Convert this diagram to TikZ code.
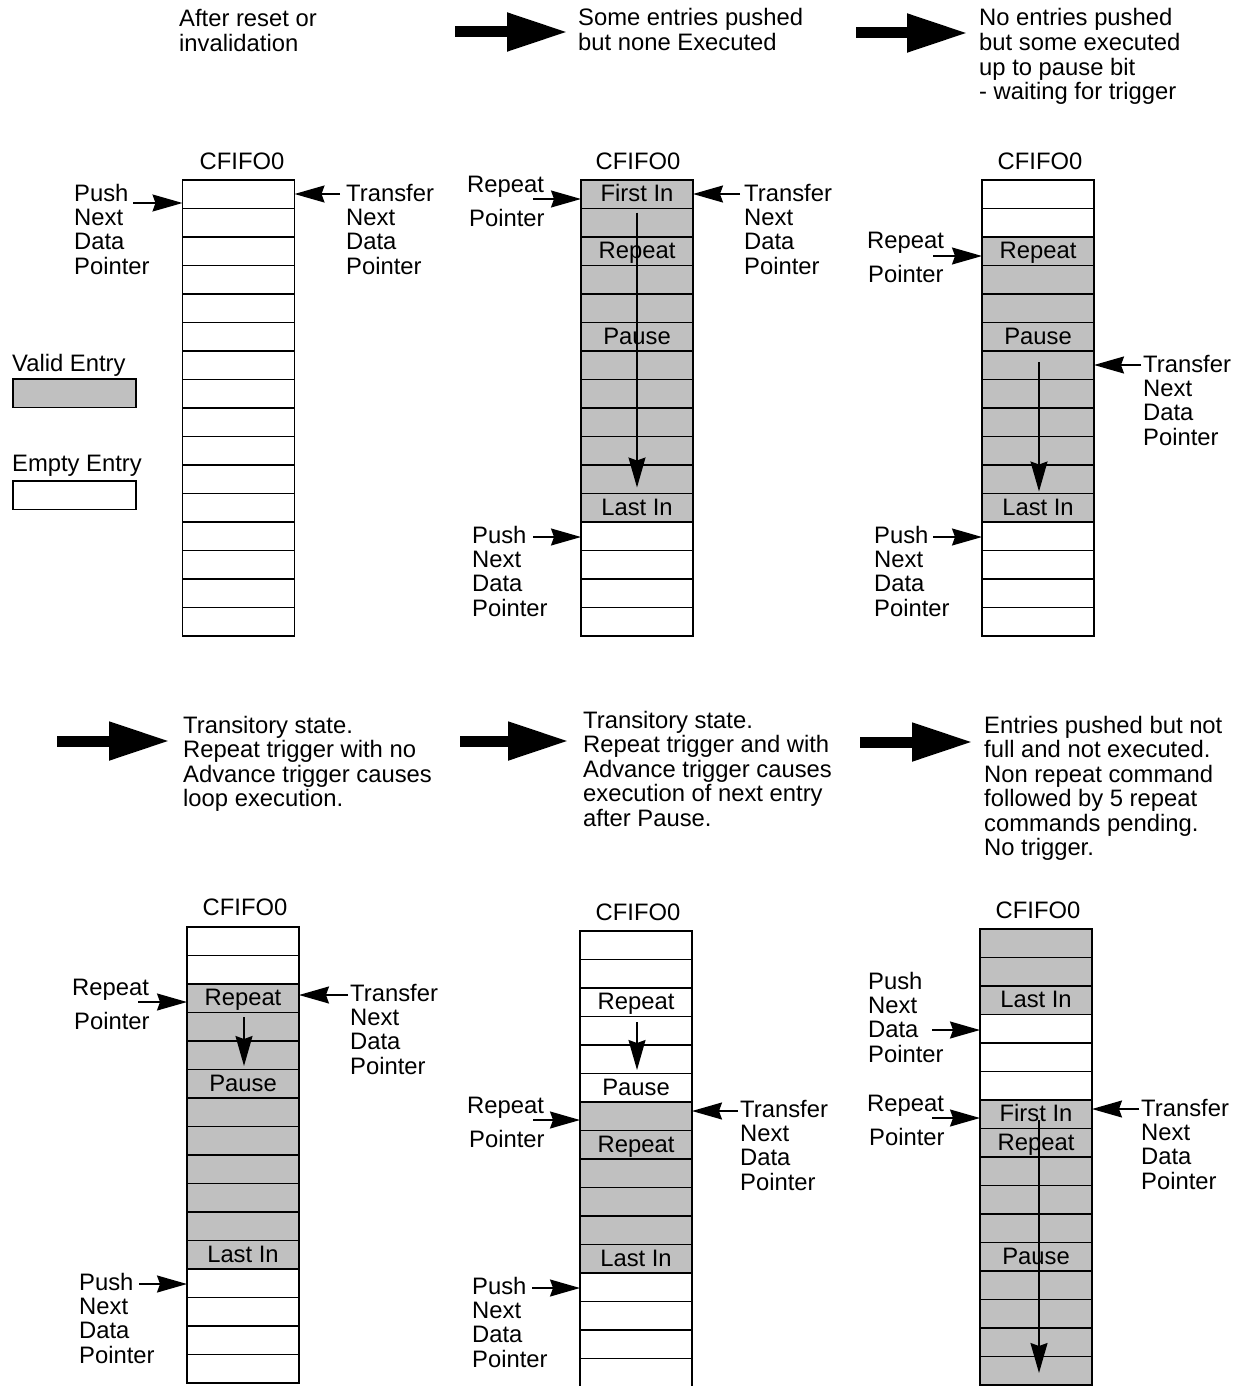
\documentclass[tikz,border=0pt]{standalone}
\usepackage{fontspec}
\setmainfont{Liberation Sans}
\usetikzlibrary{arrows.meta,calc}
\definecolor{cgray}{RGB}{192,192,192}
\newcommand{\ml}[1]{\begin{tabular}[t]{@{}l@{}}#1\end{tabular}}
\tikzset{
  cell/.style={draw, line width=1.6pt, minimum width=112pt, minimum height=28.5pt,
    inner sep=0pt, outer sep=0pt, text height=15pt, text depth=0pt},
  vc/.style={fill=cgray},
  ec/.style={fill=white},
  lbl/.style={anchor=base west, inner sep=0pt},
  ttl/.style={anchor=base, inner sep=0pt},
  ptr/.style={line width=1.6pt, -{Stealth[length=30pt,width=17pt,inset=3pt]}},
  flow/.style={line width=1.6pt, -{Stealth[length=30pt,width=17pt,inset=3pt]}},
  big/.style={line width=11pt, -{Triangle[length=61pt,width=36pt]}},
  legbox/.style={draw, line width=1.6pt, minimum width=123pt, minimum height=28.5pt,
    inner sep=0pt, outer sep=0pt, anchor=north west},
}
\newcommand{\fifocol}[4]{%
  \foreach \st/\txt [count=\i from 0] in {#4} {
    \node[cell,\st] (#1-\i) at (#2,{#3+28.5*\i+14.25}) {\txt};
  }}
\begin{document}
\begin{tikzpicture}[x=1pt,y=-1pt,font=\fontsize{23.8}{24.4}\selectfont]
\useasboundingbox (0,0) rectangle (1242,1386);

% ---------- titles and big arrows ----------
\node[lbl] (t1) at (179,27) {\ml{After reset or\\invalidation}};
\node[lbl] (t2) at (578,26) {\ml{Some entries pushed\\but none Executed}};
\node[lbl] (t3) at (979,26) {\ml{No entries pushed\\but some executed\\up to pause bit\\- waiting for trigger}};
\node[lbl] (t4) at (183,733) {\ml{Transitory state.\\Repeat trigger with no\\Advance trigger causes\\loop execution.}};
\node[lbl] (t5) at (583,728) {\ml{Transitory state.\\Repeat trigger and with\\Advance trigger causes\\execution of next entry\\after Pause.}};
\node[lbl] (t6) at (984,733) {\ml{Entries pushed but not\\full and not executed.\\Non repeat command\\followed by 5 repeat\\commands pending.\\No trigger.}};

\coordinate (a1s) at (455,32);  \coordinate (a1e) at (568,32);
\coordinate (a2s) at (856,33);  \coordinate (a2e) at (968,33);
\coordinate (a3s) at (57,741);  \coordinate (a3e) at (170,741);
\coordinate (a4s) at (460,741); \coordinate (a4e) at (569,741);
\coordinate (a5s) at (860,742); \coordinate (a5e) at (973,742);
\draw[big] (a1s) -- (a1e);
\draw[big] (a2s) -- (a2e);
\draw[big] (a3s) -- (a3e);
\draw[big] (a4s) -- (a4e);
\draw[big] (a5s) -- (a5e);

% ---------- legend ----------
\node[lbl] (lv) at (12,371) {Valid Entry};
\node[legbox, fill=cgray] (lvb) at (13,379) {};
\node[lbl] (le) at (12,471) {Empty Entry};
\node[legbox, fill=white] (leb) at (13,481) {};

% ---------- panel 1 ----------
\node[ttl] (p1t) at (242,169) {CFIFO0};
\fifocol{p1}{238.5}{180}{ec/{},ec/{},ec/{},ec/{},ec/{},ec/{},ec/{},ec/{},ec/{},ec/{},ec/{},ec/{},ec/{},ec/{},ec/{},ec/{}}
\node[lbl] (p1push) at (74,201) {\ml{Push\\Next\\Data\\Pointer}};
\node[lbl] (p1tr) at (346,201) {\ml{Transfer\\Next\\Data\\Pointer}};
\coordinate (p1pa) at (133,203); \draw[ptr] (p1pa) -- (p1pa -| p1-0.west);
\coordinate (p1ta) at (340,194); \draw[ptr] (p1ta) -- (p1ta -| p1-0.east);

% ---------- panel 2 ----------
\node[ttl] (p2t) at (638,169) {CFIFO0};
\fifocol{p2}{637}{180}{vc/First In,vc/{},vc/Repeat,vc/{},vc/{},vc/Pause,vc/{},vc/{},vc/{},vc/{},vc/{},vc/Last In,ec/{},ec/{},ec/{},ec/{}}
\draw[flow] ([yshift=-4pt]p2-1.north) -- ([yshift=6pt]p2-10.south);
\node[lbl] (p2rp) at (467,192) {Repeat};
\node[lbl] (p2rq) at (469,226) {Pointer};
\node[lbl] (p2tr) at (744,201) {\ml{Transfer\\Next\\Data\\Pointer}};
\node[lbl] (p2push) at (472,543) {\ml{Push\\Next\\Data\\Pointer}};
\coordinate (p2ra) at (533,199);  \draw[ptr] (p2ra) -- (p2ra -| p2-0.west);
\coordinate (p2ta) at (740,194);  \draw[ptr] (p2ta) -- (p2ta -| p2-0.east);
\coordinate (p2pa) at (533,537);  \draw[ptr] (p2pa) -- (p2pa -| p2-12.west);

% ---------- panel 3 ----------
\node[ttl] (p3t) at (1040,169) {CFIFO0};
\fifocol{p3}{1038}{180}{ec/{},ec/{},vc/Repeat,vc/{},vc/{},vc/Pause,vc/{},vc/{},vc/{},vc/{},vc/{},vc/Last In,ec/{},ec/{},ec/{},ec/{}}
\draw[flow] ([xshift=1pt,yshift=-11pt]p3-6.north) -- ([xshift=1pt,yshift=2pt]p3-10.south);
\node[lbl] (p3rp) at (867,248) {Repeat};
\node[lbl] (p3rq) at (868,282) {Pointer};
\node[lbl] (p3tr) at (1143,372) {\ml{Transfer\\Next\\Data\\Pointer}};
\node[lbl] (p3push) at (874,543) {\ml{Push\\Next\\Data\\Pointer}};
\coordinate (p3ra) at (933,256);  \draw[ptr] (p3ra) -- (p3ra -| p3-2.west);
\coordinate (p3ta) at (1141,365); \draw[ptr] (p3ta) -- (p3ta -| p3-6.east);
\coordinate (p3pa) at (933,537);  \draw[ptr] (p3pa) -- (p3pa -| p3-12.west);

% ---------- panel 4 ----------
\node[ttl] (p4t) at (245,915) {CFIFO0};
\fifocol{p4}{243}{927}{ec/{},ec/{},vc/Repeat,vc/{},vc/{},vc/Pause,vc/{},vc/{},vc/{},vc/{},vc/{},vc/Last In,ec/{},ec/{},ec/{},ec/{}}
\draw[flow] ([xshift=1pt,yshift=-4.5pt]p4-3.north) -- ([xshift=1pt,yshift=3.5pt]p4-4.south);
\node[lbl] (p4rp) at (72,995) {Repeat};
\node[lbl] (p4rq) at (74,1029) {Pointer};
\node[lbl] (p4tr) at (350,1001) {\ml{Transfer\\Next\\Data\\Pointer}};
\node[lbl] (p4push) at (79,1290) {\ml{Push\\Next\\Data\\Pointer}};
\coordinate (p4ra) at (138,1002); \draw[ptr] (p4ra) -- (p4ra -| p4-2.west);
\coordinate (p4ta) at (348,995);  \draw[ptr] (p4ta) -- (p4ta -| p4-2.east);
\coordinate (p4pa) at (139,1284); \draw[ptr] (p4pa) -- (p4pa -| p4-12.west);

% ---------- panel 5 ----------
\node[ttl] (p5t) at (638,920) {CFIFO0};
\fifocol{p5}{636}{931}{ec/{},ec/{},ec/Repeat,ec/{},ec/{},ec/Pause,vc/{},vc/Repeat,vc/{},vc/{},vc/{},vc/Last In,ec/{},ec/{},ec/{},ec/{}}
\draw[flow] ([xshift=1pt,yshift=-5.5pt]p5-3.north) -- ([xshift=1pt,yshift=3.5pt]p5-4.south);
\node[lbl] (p5rp) at (467,1113) {Repeat};
\node[lbl] (p5rq) at (469,1147) {Pointer};
\node[lbl] (p5tr) at (740,1117) {\ml{Transfer\\Next\\Data\\Pointer}};
\node[lbl] (p5push) at (472,1294) {\ml{Push\\Next\\Data\\Pointer}};
\coordinate (p5ra) at (533,1120); \draw[ptr] (p5ra) -- (p5ra -| p5-6.west);
\coordinate (p5ta) at (738,1111); \draw[ptr] (p5ta) -- (p5ta -| p5-6.east);
\coordinate (p5pa) at (532,1288); \draw[ptr] (p5pa) -- (p5pa -| p5-12.west);

% ---------- panel 6 ----------
\node[ttl] (p6t) at (1038,918) {CFIFO0};
\fifocol{p6}{1036}{929}{vc/{},vc/{},vc/Last In,ec/{},ec/{},ec/{},vc/First In,vc/Repeat,vc/{},vc/{},vc/{},vc/Pause,vc/{},vc/{},vc/{},vc/{}}
\draw[flow] ([xshift=3pt,yshift=-20pt]p6-6.north) -- ([xshift=3pt,yshift=12pt]p6-15.south);
\node[lbl] (p6push) at (868,989) {\ml{Push\\Next\\Data\\Pointer}};
\node[lbl] (p6rp) at (867,1111) {Repeat};
\node[lbl] (p6rq) at (869,1145) {Pointer};
\node[lbl] (p6tr) at (1141,1116) {\ml{Transfer\\Next\\Data\\Pointer}};
\coordinate (p6pa) at (932,1030);  \draw[ptr] (p6pa) -- (p6pa -| p6-3.west);
\coordinate (p6ra) at (932,1118);  \draw[ptr] (p6ra) -- (p6ra -| p6-6.west);
\coordinate (p6ta) at (1139,1109); \draw[ptr] (p6ta) -- (p6ta -| p6-6.east);
\end{tikzpicture}
\end{document}
